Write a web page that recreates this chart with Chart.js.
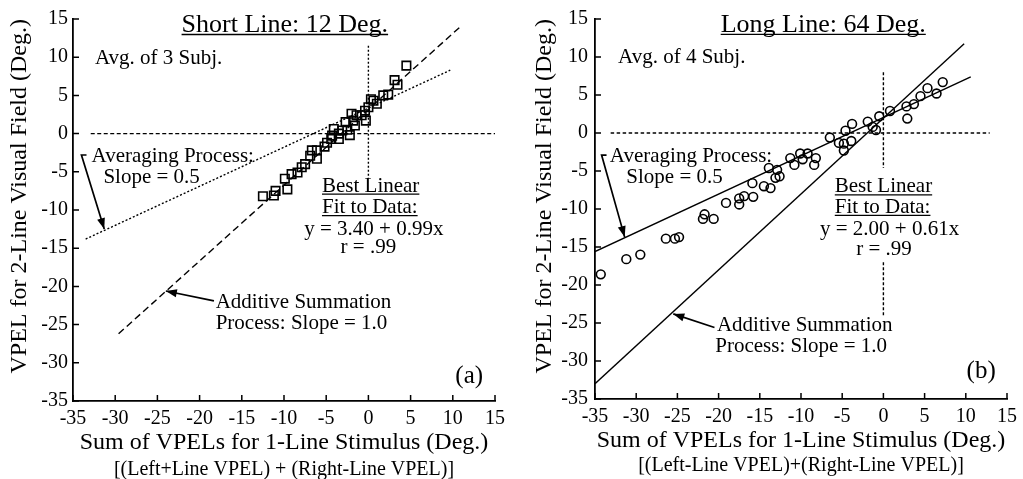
<!DOCTYPE html>
<html>
<head>
<meta charset="utf-8">
<title>VPEL: short line vs long line</title>
<script src="https://cdn.jsdelivr.net/npm/chart.js@4.4.1/dist/chart.umd.min.js"></script>
<style>
  body { margin: 0; background: #fff; }
  canvas { position: absolute; top: 0; }
</style>
</head>
<body>
<canvas id="chartA" width="511" height="479" style="left:0"></canvas>
<canvas id="chartB" width="512" height="479" style="left:511px"></canvas>
<script>
// values
const xTicks = [-35, -30, -25, -20, -15, -10, -5, 0, 5, 10, 15];
const yTicks = [-35, -30, -25, -20, -15, -10, -5, 0, 5, 10, 15];

// (a) short line, 12 deg - squares
const shortX = [4.5, 3.1, 3.45, 2.35, 1.76, 1.0, 0.6, 0.3, 0.0, -0.4, -0.3, -0.8, -1.4, -1.6, -1.8, -2.2, -2.0, -2.7, -2.5, -3.1,
                -3.5, -3.5, -4.1, -4.3, -4.4, -4.9, -5.2, -6.1, -6.7, -6.1, -6.9, -7.5, -7.9, -8.4, -9.1, -9.9, -9.6, -11.0, -11.2, -12.5];
const shortY = [8.9, 7.0, 6.4, 5.1, 5.0, 3.9, 4.3, 4.5, 3.45, 3.0, 1.7, 2.4, 2.4, 1.05, 1.7, -0.2, 2.6, 1.5, 0.5, 0.4,
                0.0, -0.7, 0.6, -0.26, -0.7, -1.2, -1.7, -2.2, -2.2, -3.3, -2.9, -4.0, -4.4, -5.1, -5.3, -5.9, -7.3, -7.5, -8.1, -8.2];
const shortAddX = [-29.6, 10.8];   // additive summation, slope 1.0
const shortAddY = [-26.2, 13.9];
const shortAvgX = [-33.5, 9.7];    // averaging, slope 0.5
const shortAvgY = [-13.8, 8.3];
const shortZeroX = [-32.9, 15];
const shortZeroY = [0, 0];
const shortVertX = [0, 0];
const shortVertY = [11.5, -5.8];

// (b) long line, 64 deg - circles
const longX = [7.2, 6.45, 5.35, 4.5, 3.7, 2.8, 2.9, 0.8, -0.5, -0.9, -1.3, -1.9, -3.8, -4.6, -6.5, -5.4, -4.8, -3.9, -4.8, -8.2,
               -9.2, -10.1, -9.8, -11.3, -10.8, -8.4, -13.9, -12.9, -13.1, -12.6, -14.5, -13.7, -15.9, -16.9, -17.5, -15.8, -17.5, -19.1,
               -21.7, -21.9, -20.6, -24.8, -25.3, -26.4, -29.5, -31.2, -34.3];
const longY = [6.7, 5.2, 5.9, 4.85, 3.8, 3.5, 1.9, 2.9, 2.2, 0.4, 0.8, 1.5, 1.2, 0.3, -0.6, -1.3, -1.4, -1.05, -2.3, -3.3,
               -2.7, -2.7, -3.45, -3.3, -4.2, -4.2, -4.6, -4.85, -5.9, -5.7, -7.0, -7.25, -6.6, -8.3, -8.6, -8.4, -9.4, -9.2,
               -10.7, -11.3, -11.3, -13.7, -13.9, -13.9, -16.0, -16.6, -18.6];
const longAddX = [-35, 9.8];
const longAddY = [-33.0, 11.75];
const longAvgX = [-35, 10.6];
const longAvgY = [-15.6, 7.4];
const longZeroX = [-33.1, 12.9];
const longZeroY = [0, 0];
const longVertX = [0, 0, 0, 0, 0];
const longVertY = [8, -4.6, null, -17, -24.2];

// labels: text, x, y (data units), font size, underline, align
const notesA = [
  ['Short Line: 12 Deg.', -9.9, 13.3, 26, true, 'center'],
  ['Avg. of 3 Subj.', -32.4, 9.1, 21],
  ['Averaging Process:', -32.8, -3.7, 21],
  ['Slope = 0.5', -31.4, -6.5, 21],
  ['Best Linear', -5.5, -7.6, 21, true],
  ['Fit to Data:', -5.5, -10.4, 21, true],
  ['y = 3.40 + 0.99x', -7.6, -13.3, 21],
  ['r = .99', -3.3, -15.6, 21],
  ['Additive Summation', -18.1, -22.8, 21],
  ['Process: Slope = 1.0', -18.1, -25.6, 21],
  ['(a)', 10.3, -32.6, 25]
];
const notesB = [
  ['Long Line: 64 Deg.', -7.3, 13.3, 26, true, 'center'],
  ['Avg. of 4 Subj.', -32.2, 9.2, 21],
  ['Averaging Process:', -33.2, -3.8, 21],
  ['Slope = 0.5', -31.2, -6.6, 21],
  ['Best Linear', -5.9, -7.8, 21, true],
  ['Fit to Data:', -5.9, -10.5, 21, true],
  ['y = 2.00 + 0.61x', -7.7, -13.4, 21],
  ['r = .99', -3.3, -16.1, 21],
  ['Additive Summation', -20.2, -26.0, 21],
  ['Process: Slope = 1.0', -20.4, -28.8, 21],
  ['(b)', 10.1, -32.2, 25]
];
// arrows: polyline in data units, head at the last point
const arrowsA = [
  [[-33.4, -2.8], [-34.0, -2.8], [-31.3, -12.5]],
  [[-18.3, -21.9], [-24.0, -20.6]]
];
const arrowsB = [
  [[-33.6, -2.9], [-34.2, -2.9], [-31.4, -13.7]],
  [[-20.5, -25.6], [-25.5, -23.8]]
];

const serif = "'Liberation Serif', 'Times New Roman', Times, serif";

function pts(xs, ys) {
  return xs.map((x, i) => ({ x: x, y: ys[i] }));
}

// text, arrows, inward ticks, second line of the x title
const notesPlugin = {
  id: 'notes',
  afterDraw(chart, args, o) {
    const ctx = chart.ctx, xs = chart.scales.x, ys = chart.scales.y, area = chart.chartArea;
    ctx.save();
    ctx.fillStyle = '#000';
    ctx.strokeStyle = '#000';

    ctx.lineWidth = 1.5;
    ctx.beginPath();
    xs.ticks.forEach(t => {
      const px = xs.getPixelForValue(t.value);
      ctx.moveTo(px, area.bottom);
      ctx.lineTo(px, area.bottom - 6);
    });
    ys.ticks.forEach(t => {
      const py = ys.getPixelForValue(t.value);
      ctx.moveTo(area.left, py);
      ctx.lineTo(area.left + 6, py);
    });
    ctx.stroke();

    ctx.textBaseline = 'alphabetic';
    o.texts.forEach(n => {
      const [s, x, y, size, under, align] = n;
      ctx.font = size + 'px ' + serif;
      ctx.textAlign = align || 'left';
      const px = xs.getPixelForValue(x), py = ys.getPixelForValue(y);
      ctx.fillText(s, px, py);
      if (under) {
        const w = ctx.measureText(s).width;
        const x0 = align === 'center' ? px - w / 2 : px;
        ctx.lineWidth = 1.3;
        ctx.beginPath();
        ctx.moveTo(x0, py + 2.5);
        ctx.lineTo(x0 + w, py + 2.5);
        ctx.stroke();
      }
    });

    o.arrows.forEach(a => {
      const p = a.map(q => [xs.getPixelForValue(q[0]), ys.getPixelForValue(q[1])]);
      ctx.lineWidth = 1.7;
      ctx.beginPath();
      ctx.moveTo(p[0][0], p[0][1]);
      for (let i = 1; i < p.length; i++) ctx.lineTo(p[i][0], p[i][1]);
      ctx.stroke();
      const [hx, hy] = p[p.length - 1], [tx, ty] = p[p.length - 2];
      const ang = Math.atan2(hy - ty, hx - tx);
      ctx.beginPath();
      ctx.moveTo(hx, hy);
      ctx.lineTo(hx - 11 * Math.cos(ang) + 4 * Math.sin(ang), hy - 11 * Math.sin(ang) - 4 * Math.cos(ang));
      ctx.lineTo(hx - 11 * Math.cos(ang) - 4 * Math.sin(ang), hy - 11 * Math.sin(ang) + 4 * Math.cos(ang));
      ctx.closePath();
      ctx.fill();
    });

    ctx.font = '20px ' + serif;
    ctx.textAlign = 'center';
    ctx.textBaseline = 'middle';
    ctx.fillText(o.sub, (area.left + area.right) / 2, area.bottom + o.subGap);
    ctx.restore();
  }
};

function lineSet(xs, ys, dash, width) {
  return {
    data: pts(xs, ys), showLine: true, spanGaps: false,
    borderColor: '#000', borderWidth: width || 1.4, borderDash: dash,
    pointRadius: 0, pointHoverRadius: 0, fill: false
  };
}

function makeChart(id, p) {
  return new Chart(document.getElementById(id), {
    type: 'scatter',
    data: {
      datasets: [
        lineSet(p.zeroX, p.zeroY, p.zeroDash),
        lineSet(p.vertX, p.vertY, p.vertDash),
        lineSet(p.avgX, p.avgY, p.avgDash),
        lineSet(p.addX, p.addY, p.addDash),
        {
          data: pts(p.x, p.y), showLine: false,
          pointStyle: p.marker, pointRadius: p.radius,
          borderColor: '#000', backgroundColor: 'rgba(0,0,0,0)', pointBorderWidth: 1.6
        }
      ]
    },
    options: {
      responsive: false,
      animation: false,
      events: [],
      layout: { padding: { top: 19, right: p.right, left: 0, bottom: 0 } },
      plugins: {
        legend: { display: false },
        tooltip: { enabled: false },
        notes: { texts: p.notes, arrows: p.arrows, sub: p.sub, subGap: p.subGap }
      },
      scales: {
        x: {
          type: 'linear', min: -35, max: 15,
          afterBuildTicks: s => { s.ticks = xTicks.map(v => ({ value: v })); },
          afterFit: s => { s.height = p.xh; },
          grid: { display: false, drawTicks: false },
          border: { color: '#000', width: 1.8 },
          ticks: { color: '#000', font: { family: serif, size: 20 }, padding: 6, maxRotation: 0, autoSkip: false },
          title: {
            display: true, text: 'Sum of VPELs for 1-Line Stimulus (Deg.)', color: '#000',
            font: { family: serif, size: 24 }, padding: { top: 0, bottom: p.xtPad }
          }
        },
        y: {
          type: 'linear', min: -35, max: 15,
          afterBuildTicks: s => { s.ticks = yTicks.map(v => ({ value: v })); },
          afterFit: s => { s.width = p.yw; },
          grid: { display: false, drawTicks: false },
          border: { color: '#000', width: 1.8 },
          ticks: { color: '#000', font: { family: serif, size: 20 }, padding: p.ytickPad },
          title: {
            display: true, text: 'VPEL for 2-Line Visual Field (Deg.)', color: '#000', align: 'end',
            font: { family: serif, size: 24 }, padding: { top: p.ytPad, bottom: 0 }
          }
        }
      }
    },
    plugins: [notesPlugin]
  });
}

makeChart('chartA', {
  x: shortX, y: shortY, marker: 'rect', radius: 6,
  addX: shortAddX, addY: shortAddY, addDash: [7, 4],
  avgX: shortAvgX, avgY: shortAvgY, avgDash: [2, 2],
  zeroX: shortZeroX, zeroY: shortZeroY, zeroDash: [4, 2.5],
  vertX: shortVertX, vertY: shortVertY, vertDash: [2, 2],
  notes: notesA, arrows: arrowsA,
  sub: '[(Left+Line VPEL) + (Right-Line VPEL)]', subGap: 69,
  right: 13, xh: 78, yw: 73, xtPad: 22, ytPad: 5, ytickPad: 5
});

makeChart('chartB', {
  x: longX, y: longY, marker: 'circle', radius: 4.4,
  addX: longAddX, addY: longAddY, addDash: [],
  avgX: longAvgX, avgY: longAvgY, avgDash: [],
  zeroX: longZeroX, zeroY: longZeroY, zeroDash: [3.5, 2.5],
  vertX: longVertX, vertY: longVertY, vertDash: [3, 2],
  notes: notesB, arrows: arrowsB,
  sub: '[(Left-Line VPEL)+(Right-Line VPEL)]', subGap: 67,
  right: 7, xh: 80, yw: 84, xtPad: 24, ytPad: 19, ytickPad: 7
});
</script>
</body>
</html>
